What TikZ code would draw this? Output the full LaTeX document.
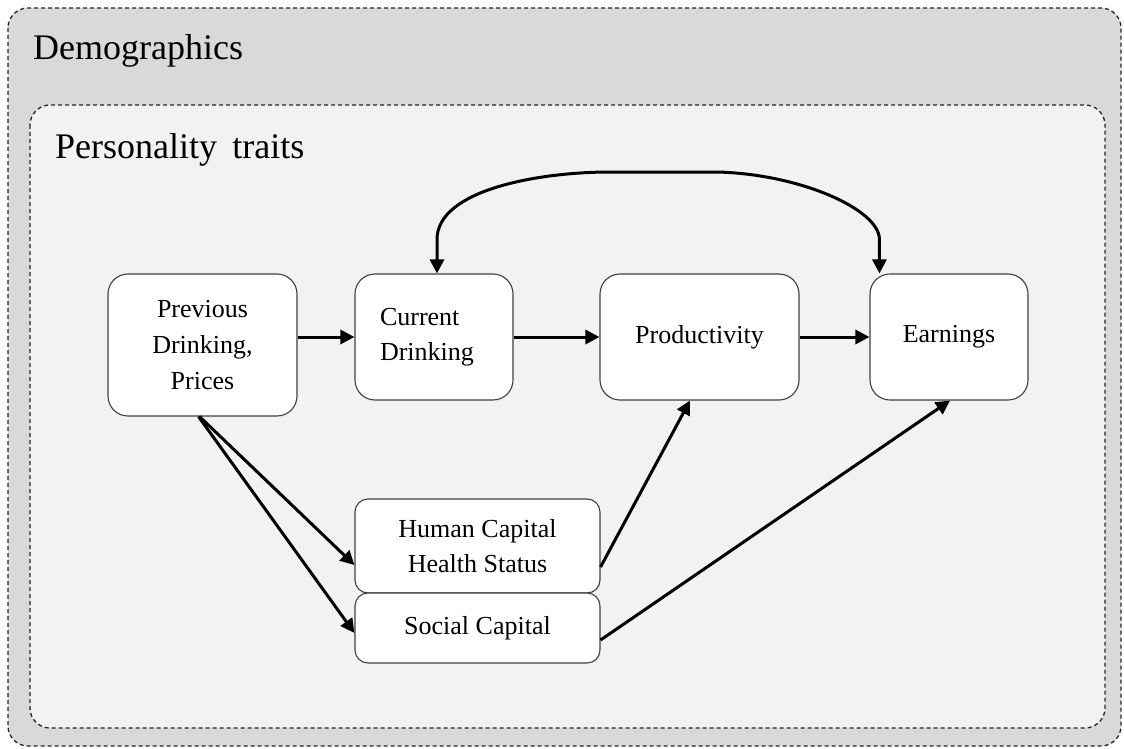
\documentclass[tikz,border=0pt]{standalone}
\usepackage{fontspec}
\setmainfont{Liberation Serif}
\usetikzlibrary{arrows.meta,calc}
\definecolor{outerfill}{HTML}{D9D9D9}
\definecolor{innerfill}{HTML}{F2F2F2}
\definecolor{boxline}{HTML}{404040}
\tikzset{
  frame/.style={draw=black!85, line width=1.3pt, dash pattern=on 4pt off 3pt, rounded corners=20pt},
  stagebox/.style={draw=boxline, fill=white, line width=1.1pt, rounded corners=20pt,
    inner sep=0pt, align=center, font=\fontsize{26}{36}\selectfont},
  smallbox/.style={stagebox, rounded corners=13pt, font=\fontsize{26}{35}\selectfont},
  title/.style={anchor=base west, inner sep=0pt, font=\fontsize{36}{40}\selectfont},
  flow/.style={line width=3pt, -{Triangle[length=14pt,width=14pt]}},
  twoway/.style={line width=3pt, {Triangle[length=14pt,width=14pt]}-{Triangle[length=14pt,width=14pt]}}
}
\begin{document}
\begin{tikzpicture}[x=1pt,y=-1pt]
\useasboundingbox (0,0) rectangle (1124,749);

% nested context frames
\draw[frame, fill=outerfill] (8,8) rectangle (1121,746);
\draw[frame, fill=innerfill] (30,105) rectangle (1105,728);
\node[title] (demo) at (33,60) {Demographics};
\node[title] (pers) at (55,158) {Personality\hspace{0.42em}traits};

% stages
\node[stagebox, minimum width=189pt, minimum height=142pt] (prev) at (202.5,345)
  {Previous\\Drinking,\\Prices};
\node[stagebox, minimum width=158pt, minimum height=126pt, text width=108pt,
  inner xsep=25pt, align=left, font=\fontsize{26}{35}\selectfont] (cur) at (434,337)
  {Current\\Drinking};
\node[stagebox, minimum width=199pt, minimum height=126pt] (prod) at (699.5,337) {Productivity};
\node[stagebox, minimum width=158pt, minimum height=126pt] (earn) at (949,337) {Earnings};
\node[smallbox, minimum width=245pt, minimum height=94pt] (hum) at (477.5,546)
  {Human Capital\\Health Status};
\node[smallbox, minimum width=245pt, minimum height=70pt] (soc) at (477.5,628) {Social Capital};

% main chain
\draw[flow] (cur.west -| prev.east) -- (cur.west);
\draw[flow] (cur.east) -- (prod.west);
\draw[flow] (prod.east) -- (earn.west);

% feedback between current drinking and earnings
\coordinate (fbl) at ($(cur.north)+(3,-34)$);
\coordinate (fbr) at ($(earn.north west)+(10,-34)$);
\draw[twoway] ($(cur.north)+(3,0)$) -- (fbl)
  .. controls ($(fbl)+(0,-50)$) and (540,172) .. (610,172) -- (717,172)
  .. controls (800,174) and ($(fbr)+(0,-30)$) .. (fbr) -- ($(earn.north west)+(10,0)$);

% indirect channels
\draw[flow] ($(prev.south)+(-3,0)$) -- ($(hum.west)+(0,19)$);
\draw[flow] ($(prev.south)+(-4,0)$) -- ($(soc.west)+(0,5)$);
\draw[flow] ($(hum.east)+(0,21)$) -- ($(prod.south)+(-9.5,0)$);
\draw[flow] ($(soc.east)+(0,12)$) -- ($(earn.south)+(1,0)$);
\end{tikzpicture}
\end{document}
